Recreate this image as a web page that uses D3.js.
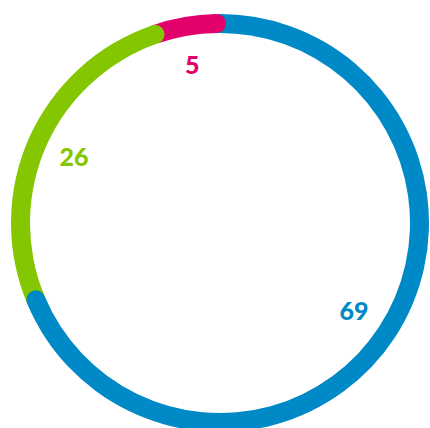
<!DOCTYPE html>
<html>
<head>
<meta charset="utf-8">
<script src="https://cdn.jsdelivr.net/npm/d3@7"></script>
<style>
  body { margin: 0; background: #fff; }
</style>
</head>
<body>
<script>
// data
var labels = ["5", "69", "26"];
var values = [5, 69, 26];
var colors = ["#e2006b", "#0089c7", "#84c700"];

// set the dimensions of the graph
var width = 430, height = 428;
var cx = 220, cy = 223;
var outer = 209, inner = 190;
var mid = (outer + inner) / 2, thick = outer - inner;

var svg = d3.select("body")
  .append("svg")
  .attr("width", width)
  .attr("height", height)
  .append("g")
  .attr("transform", "translate(" + cx + "," + cy + ")");

var start = -19 * Math.PI / 180;
var pie = d3.pie()
  .sort(null)
  .value(function (d) { return d; })
  .startAngle(start)
  .endAngle(start + 2 * Math.PI);

var slices = pie(values);

var arc = d3.arc()
  .innerRadius(inner)
  .outerRadius(outer);

// ring segments
svg.append("g")
  .selectAll("path")
  .data(slices)
  .enter()
  .append("path")
  .attr("d", arc)
  .style("fill", function (d, i) { return colors[i]; });

// round cap at the end of every segment, drawn on top
svg.append("g")
  .selectAll("circle")
  .data(slices)
  .enter()
  .append("circle")
  .attr("cx", function (d) { return mid * Math.sin(d.endAngle); })
  .attr("cy", function (d) { return -mid * Math.cos(d.endAngle); })
  .attr("r", thick / 2)
  .style("fill", function (d, i) { return colors[i]; });

// labels
var labelArc = d3.arc()
  .innerRadius(160)
  .outerRadius(160);

svg.append("g")
  .selectAll("text")
  .data(slices)
  .enter()
  .append("text")
  .attr("transform", function (d) { return "translate(" + labelArc.centroid(d) + ")"; })
  .attr("text-anchor", "middle")
  .attr("dy", "0.36em")
  .style("font-family", "Lato, 'Open Sans', sans-serif")
  .style("font-weight", "900")
  .style("font-size", "25px")
  .style("fill", function (d, i) { return colors[i]; })
  .text(function (d, i) { return labels[i]; });
</script>
</body>
</html>
